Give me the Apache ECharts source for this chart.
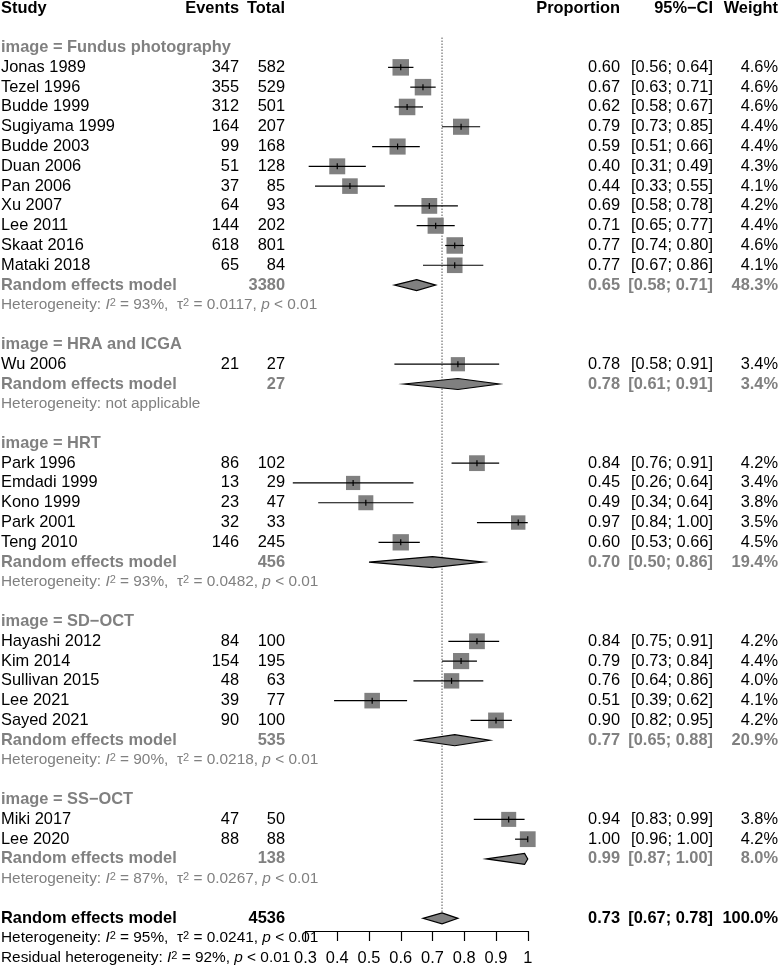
<!DOCTYPE html>
<html>
<head>
<meta charset="utf-8">
<script src="https://cdn.jsdelivr.net/npm/echarts@6/dist/echarts.min.js"></script>
<style>
  html, body { margin: 0; padding: 0; background: #fff; }
  #chart { width: 780px; height: 971px; }
</style>
</head>
<body>
<div id="chart"></div>
<script>
// study level data
const studyNames = ['Jonas 1989', 'Tezel 1996', 'Budde 1999', 'Sugiyama 1999', 'Budde 2003', 'Duan 2006', 'Pan 2006', 'Xu 2007', 'Lee 2011', 'Skaat 2016', 'Mataki 2018',
  'Wu 2006',
  'Park 1996', 'Emdadi 1999', 'Kono 1999', 'Park 2001', 'Teng 2010',
  'Hayashi 2012', 'Kim 2014', 'Sullivan 2015', 'Lee 2021', 'Sayed 2021',
  'Miki 2017', 'Lee 2020']
const studyGroup = [0, 0, 0, 0, 0, 0, 0, 0, 0, 0, 0, 1, 2, 2, 2, 2, 2, 3, 3, 3, 3, 3, 4, 4]
const events = [347, 355, 312, 164, 99, 51, 37, 64, 144, 618, 65, 21, 86, 13, 23, 32, 146, 84, 154, 48, 39, 90, 47, 88]
const totals = [582, 529, 501, 207, 168, 128, 85, 93, 202, 801, 84, 27, 102, 29, 47, 33, 245, 100, 195, 63, 77, 100, 50, 88]
const props = [0.60, 0.67, 0.62, 0.79, 0.59, 0.40, 0.44, 0.69, 0.71, 0.77, 0.77, 0.78, 0.84, 0.45, 0.49, 0.97, 0.60, 0.84, 0.79, 0.76, 0.51, 0.90, 0.94, 1.00]
const lowers = [0.56, 0.63, 0.58, 0.73, 0.51, 0.31, 0.33, 0.58, 0.65, 0.74, 0.67, 0.58, 0.76, 0.26, 0.34, 0.84, 0.53, 0.75, 0.73, 0.64, 0.39, 0.82, 0.83, 0.96]
const uppers = [0.64, 0.71, 0.67, 0.85, 0.66, 0.49, 0.55, 0.78, 0.77, 0.80, 0.86, 0.91, 0.91, 0.64, 0.64, 1.00, 0.66, 0.91, 0.84, 0.86, 0.62, 0.95, 0.99, 1.00]
const weights = [4.6, 4.6, 4.6, 4.4, 4.4, 4.3, 4.1, 4.2, 4.4, 4.6, 4.1, 3.4, 4.2, 3.4, 3.8, 3.5, 4.5, 4.2, 4.4, 4.0, 4.1, 4.2, 3.8, 4.2]

// subgroup data
const groupLabels = ['Fundus photography', 'HRA and ICGA', 'HRT', 'SD\u2212OCT', 'SS\u2212OCT']
const groupTotals = [3380, 27, 456, 535, 138]
const groupProps = [0.65, 0.78, 0.70, 0.77, 0.99]
const groupLowers = [0.58, 0.61, 0.50, 0.65, 0.87]
const groupUppers = [0.71, 0.91, 0.86, 0.88, 1.00]
const groupWeights = [48.3, 3.4, 19.4, 20.9, 8.0]
const groupI2 = [93, null, 93, 90, 87]
const groupTau2 = ['0.0117', null, '0.0482', '0.0218', '0.0267']

// overall
const overallTotal = 4536
const overallProp = 0.73
const overallLower = 0.67
const overallUpper = 0.78
const overallWeight = 100.0
const overallI2 = 95
const overallTau2 = '0.0241'
const residualI2 = 92

const FONT = 'Liberation Sans, Arial, Helvetica, sans-serif'
const FS = 16.4
const HFS = 15.4
const GREY = '#808080'

// columns (right edges, px)
const COL = {study: 1, events: 239, total: 285, prop: 620, ci: 713, weight: 778}

// build the row list
let rows = []
let r = 0
rows.push({type: 'header', row: r++})
r++
groupLabels.forEach(function (g, gi) {
  rows.push({type: 'group', row: r++, label: 'image = ' + g})
  studyNames.forEach(function (s, i) {
    if (studyGroup[i] !== gi) return
    rows.push({type: 'study', row: r++, name: s, ev: events[i], tot: totals[i], est: props[i], lo: lowers[i], up: uppers[i], w: weights[i]})
  })
  rows.push({type: 'rem', row: r++, tot: groupTotals[gi], est: groupProps[gi], lo: groupLowers[gi], up: groupUppers[gi], w: groupWeights[gi], color: GREY})
  rows.push({type: 'het', row: r++, i2: groupI2[gi], tau2: groupTau2[gi], color: GREY})
  r++
})
rows.push({type: 'rem', row: r++, tot: overallTotal, est: overallProp, lo: overallLower, up: overallUpper, w: overallWeight, color: '#000'})
rows.push({type: 'het', row: r++, i2: overallI2, tau2: overallTau2, color: '#000'})
rows.push({type: 'resid', row: r++, i2: residualI2, color: '#000'})

function fmt2 (v) { return v.toFixed(2) }
function ciText (lo, up) { return '[' + fmt2(lo) + '; ' + fmt2(up) + ']' }

function txt (x, y, s, opt) {
  opt = opt || {}
  return {
    type: 'text',
    x: x,
    y: y,
    style: {
      text: s,
      fill: opt.color || '#000',
      fontSize: opt.size || FS,
      fontWeight: opt.bold ? 'bold' : 'normal',
      fontFamily: FONT,
      align: opt.align || 'right',
      verticalAlign: 'middle',
      rich: opt.rich
    }
  }
}

function hetRich (color) {
  let base = {fill: color, fontSize: HFS, fontFamily: FONT}
  return {
    n: base,
    i: Object.assign({}, base, {fontStyle: 'italic'}),
    s: Object.assign({}, base, {fontSize: 11, verticalAlign: 'top'})
  }
}

function renderRow (params, api) {
  const d = rows[params.dataIndex]
  const y = api.coord([0.3, d.row])[1]
  let kids = []
  if (d.type === 'header') {
    kids.push(txt(COL.study, y, 'Study', {bold: true, align: 'left'}))
    kids.push(txt(COL.events, y, 'Events', {bold: true}))
    kids.push(txt(COL.total, y, 'Total', {bold: true}))
    kids.push(txt(COL.prop, y, 'Proportion', {bold: true}))
    kids.push(txt(COL.ci, y, '95%\u2212CI', {bold: true}))
    kids.push(txt(COL.weight, y, 'Weight', {bold: true}))
  } else if (d.type === 'group') {
    kids.push(txt(COL.study, y, d.label, {bold: true, align: 'left', color: GREY}))
  } else if (d.type === 'study') {
    const xe = api.coord([d.est, d.row])[0]
    const xl = api.coord([d.lo, d.row])[0]
    const xu = api.coord([d.up, d.row])[0]
    const side = 7.7 * Math.sqrt(d.w)
    kids.push({type: 'rect', shape: {x: xe - side / 2, y: y - side / 2, width: side, height: side}, style: {fill: GREY}})
    kids.push({type: 'line', shape: {x1: xl, y1: y, x2: xu, y2: y}, style: {stroke: '#000', lineWidth: 1.2}})
    kids.push({type: 'line', shape: {x1: xe, y1: y - 3, x2: xe, y2: y + 3}, style: {stroke: '#000', lineWidth: 1.2}})
    kids.push(txt(COL.study, y, d.name, {align: 'left'}))
    kids.push(txt(COL.events, y, String(d.ev)))
    kids.push(txt(COL.total, y, String(d.tot)))
    kids.push(txt(COL.prop, y, fmt2(d.est)))
    kids.push(txt(COL.ci, y, ciText(d.lo, d.up)))
    kids.push(txt(COL.weight, y, d.w.toFixed(1) + '%'))
  } else if (d.type === 'rem') {
    const xe = api.coord([d.est, d.row])[0]
    const xl = api.coord([d.lo, d.row])[0]
    const xu = api.coord([d.up, d.row])[0]
    const h = 5.5
    kids.push({type: 'polygon', shape: {points: [[xl, y], [xe, y - h], [xu, y], [xe, y + h]]}, style: {fill: GREY, stroke: '#000', lineWidth: 1.2}})
    const o = {bold: true, color: d.color}
    kids.push(txt(COL.study, y, 'Random effects model', Object.assign({align: 'left'}, o)))
    kids.push(txt(COL.total, y, String(d.tot), o))
    kids.push(txt(COL.prop, y, fmt2(d.est), o))
    kids.push(txt(COL.ci, y, ciText(d.lo, d.up), o))
    kids.push(txt(COL.weight, y, d.w.toFixed(1) + '%', o))
  } else if (d.type === 'het') {
    let s
    if (d.i2 === null) {
      s = '{n|Heterogeneity: not applicable}'
    } else {
      s = '{n|Heterogeneity: }{i|I}{s|2}{n| = ' + d.i2 + '%,  \u03c4}{s|2}{n| = ' + d.tau2 + ', }{i|p}{n| < 0.01}'
    }
    kids.push(txt(COL.study, y, s, {align: 'left', color: d.color, size: HFS, rich: hetRich(d.color)}))
  } else if (d.type === 'resid') {
    const s = '{n|Residual heterogeneity: }{i|I}{s|2}{n| = ' + d.i2 + '%, }{i|p}{n| < 0.01}'
    kids.push(txt(COL.study, y, s, {align: 'left', color: d.color, size: HFS, rich: hetRich(d.color)}))
  }
  return {type: 'group', children: kids}
}

const chart = echarts.init(document.getElementById('chart'), null, {renderer: 'canvas'})
chart.setOption({
  animation: false,
  grid: {
    left: 305.5,
    right: 252.25,
    top: 8,
    height: 923
  },
  xAxis: {
    type: 'value',
    position: 'bottom',
    min: 0.3,
    max: 1,
    interval: 0.1,
    splitLine: {show: false},
    axisLine: {show: true, onZero: false, lineStyle: {color: '#000', width: 1.2}},
    axisTick: {show: true, length: 10, lineStyle: {color: '#000', width: 1.2}},
    axisLabel: {
      color: '#000',
      fontSize: FS,
      fontFamily: FONT,
      margin: 19,
      formatter: function (v) { return String(+v.toFixed(1)) }
    }
  },
  yAxis: {
    type: 'value',
    min: 0,
    max: 46.64,
    inverse: true,
    show: false
  },
  series: [
    {
      // reference line at the overall estimate
      type: 'line',
      data: [[overallProp, 1.5], [overallProp, 46]],
      symbol: 'none',
      lineStyle: {color: '#000', width: 1, type: [1, 2]},
      z: 1
    },
    {
      type: 'custom',
      clip: false,
      renderItem: renderRow,
      data: rows.map(function (d) { return [d.est || 0.3, d.row] }),
      z: 2
    }
  ]
})
</script>
</body>
</html>
